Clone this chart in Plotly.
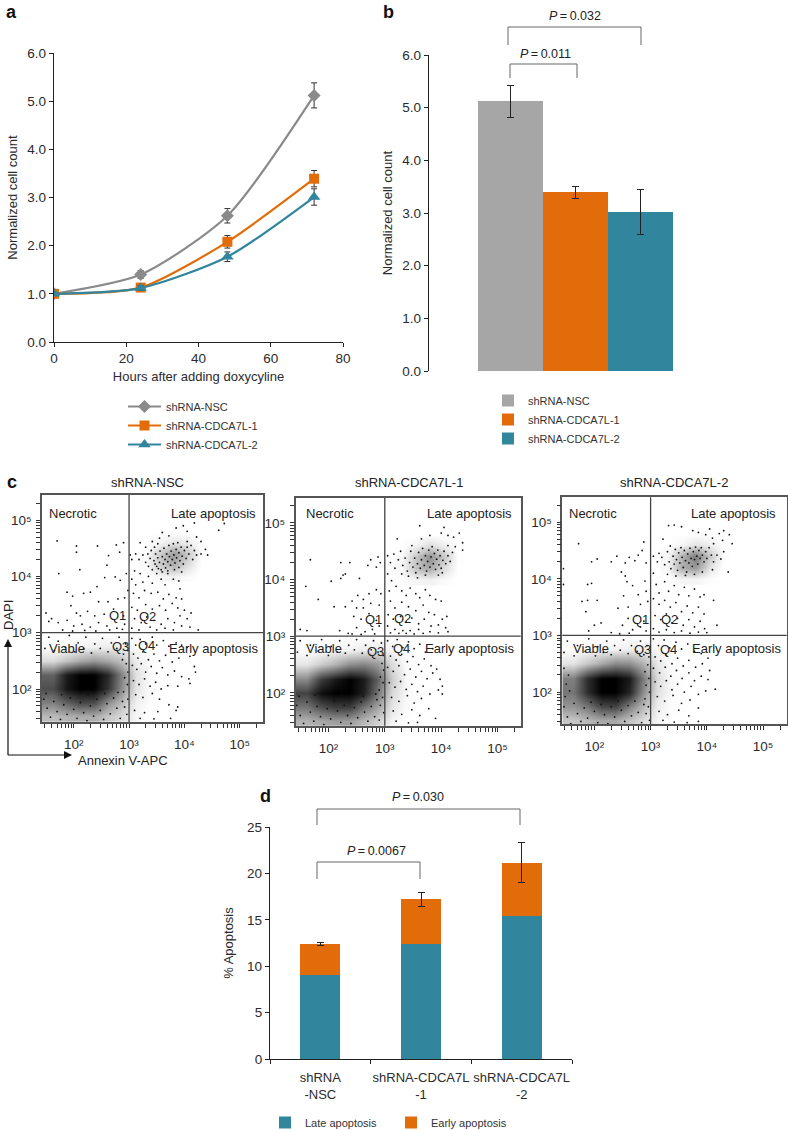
import numpy as np
import plotly.graph_objects as go

W, H = 788, 1130
FONT = "Liberation Sans"
GREY, ORANGE, TEAL, BARGREY = "#8a8a8a", "#e36c0a", "#31859c", "#a6a6a6"
INK = "#2b2b2b"

# ---------- panel a / b data ----------
hours = [0, 24, 48, 72]
names = ["shRNA-NSC", "shRNA-CDCA7L-1", "shRNA-CDCA7L-2"]
nsc_curve = [1.0, 1.40, 2.62, 5.12]
nsc_err = [0.03, 0.08, 0.15, 0.26]
l1_curve = [1.0, 1.13, 2.08, 3.39]
l1_err = [0.03, 0.05, 0.13, 0.17]
l2_curve = [1.0, 1.12, 1.77, 3.01]
l2_err = [0.02, 0.05, 0.10, 0.17]
endpoint_vals = [5.12, 3.39, 3.02]
endpoint_err = [0.30, 0.11, 0.43]

# ---------- panel d data ----------
d_cats = ["shRNA<br>-NSC", "shRNA-CDCA7L<br>-1", "shRNA-CDCA7L<br>-2"]
late_vals = [9.05, 12.35, 15.45]
early_vals = [3.35, 4.85, 5.70]
total_err = [0.15, 0.75, 2.15]

# ---------- panel c data: log10 fluorescence ----------
grid_x = [1.37, 1.62, 1.87, 2.12, 2.37, 2.62, 2.87, 3.12, 3.37, 3.62]
grid_y = [1.25, 1.5, 1.75, 2.0, 2.25, 2.5, 2.75, 3.0]
late_gx = [3.30, 3.55, 3.80, 4.05, 4.30]
late_gy = [4.0, 4.2, 4.4, 4.6, 4.8]

nsc_density = [
 [.26,.26,.30,.32,.32,.22,.14,.03,.0,.0],
 [.26,.26,.30,.32,.32,.22,.14,.03,.0,.0],
 [.50,.50,.62,.72,.70,.44,.26,.06,.01,.0],
 [.70,.70,.92,1.0,1.0,.80,.44,.10,.02,.0],
 [.62,.62,.90,1.0,1.0,.84,.48,.12,.02,.0],
 [.14,.14,.24,.34,.40,.34,.24,.07,.01,.0],
 [.01,.01,.02,.04,.06,.07,.06,.02,.0,.0],
 [.0,.0,.0,.0,.0,.0,.0,.0,.0,.0],
]
l1_density = [
 [.30,.30,.34,.38,.38,.28,.18,.05,.0,.0],
 [.30,.30,.34,.38,.38,.28,.18,.05,.0,.0],
 [.54,.54,.68,.76,.76,.54,.36,.10,.02,.0],
 [.74,.74,.94,1.0,1.0,.88,.54,.16,.03,.0],
 [.46,.46,.76,.90,1.0,.90,.62,.20,.03,.0],
 [.10,.10,.20,.30,.44,.48,.40,.14,.02,.0],
 [.01,.01,.02,.04,.05,.08,.10,.04,.01,.0],
 [.0,.0,.0,.0,.0,.0,.0,.0,.0,.0],
]
l2_density = [
 [.22,.22,.28,.34,.34,.24,.14,.04,.0,.0],
 [.22,.22,.28,.34,.34,.24,.14,.04,.0,.0],
 [.42,.42,.54,.72,.74,.50,.28,.07,.01,.0],
 [.54,.54,.82,1.0,1.0,.86,.44,.12,.02,.0],
 [.50,.50,.82,1.0,1.0,.90,.52,.14,.02,.0],
 [.11,.11,.22,.34,.46,.44,.30,.09,.01,.0],
 [.01,.01,.02,.04,.05,.07,.07,.03,.0,.0],
 [.0,.0,.0,.0,.0,.0,.0,.0,.0,.0],
]
nsc_late_density = [[.0,.03,.05,.02,.0],[.02,.20,.32,.14,.0],[.01,.20,.40,.24,.01],[.0,.04,.11,.08,.0],[.0,.0,.0,.0,.0]]
l1_late_density = [[.01,.04,.05,.02,.0],[.03,.24,.34,.14,.0],[.02,.22,.44,.22,.01],[.0,.05,.14,.07,.0],[.0,.0,.0,.0,.0]]
l2_late_density = [[.0,.04,.04,.01,.0],[.03,.32,.40,.11,.0],[.03,.30,.52,.22,.01],[.0,.04,.11,.07,.01],[.0,.0,.0,.0,.0]]

nsc_dots = [
(1.70,4.63),(2.05,4.54),(2.05,4.43),(2.43,4.54),(2.77,4.56),(2.90,4.60),(1.73,4.05),(2.11,4.12),(2.63,4.37),(2.60,4.20),(2.83,4.43),(2.75,3.99),(2.84,3.93),(2.95,4.05),(2.98,3.75),(2.56,3.98),(2.42,3.82),(2.30,3.72),(2.18,3.70),(1.98,3.65),(1.88,3.72),(2.45,3.55),(2.62,3.55),(2.80,3.60),(2.92,3.62),(1.95,3.48),(2.05,3.35),(2.12,3.30),(2.25,3.38),(2.38,3.30),(2.55,3.33),(2.72,3.42),(2.90,3.30),(1.60,3.25),(1.50,3.35),(1.55,3.20),(1.72,3.18),(1.88,3.22),(2.00,3.12),(2.15,3.15),(2.30,3.10),(2.45,3.18),(2.60,3.12),(2.78,3.08),(2.92,3.15),(1.80,3.05),(1.98,3.03),(2.20,3.04),(2.40,3.03),(2.65,3.05),(2.88,3.06),
(3.05,4.30),(3.10,4.10),(3.05,3.95),(3.12,3.85),(3.20,4.05),(3.25,3.90),(3.35,4.00),(3.42,3.88),(3.50,4.05),(3.58,3.95),(3.65,3.85),(3.70,4.05),(3.80,3.95),(3.90,3.92),(3.95,4.08),(3.08,3.70),(3.18,3.62),(3.28,3.75),(3.40,3.70),(3.52,3.72),(3.62,3.60),(3.72,3.68),(3.85,3.62),(3.92,3.78),(3.05,3.45),(3.15,3.40),(3.30,3.50),(3.42,3.42),(3.55,3.48),(3.66,3.40),(3.78,3.52),(3.88,3.44),(4.00,3.40),(3.95,3.60),(3.10,3.25),(3.22,3.18),(3.32,3.28),(3.45,3.22),(3.58,3.15),(3.70,3.25),(3.82,3.18),(3.92,3.30),(4.05,3.25),(4.12,3.35),(3.05,3.08),(3.18,3.05),(3.38,3.10),(3.50,3.05),(3.65,3.08),(3.80,3.05),(3.95,3.12),(4.10,3.10),(4.25,3.05),
(3.20,4.60),(3.30,4.52),(3.42,4.62),(3.55,4.68),(3.60,4.78),(3.72,4.72),(3.85,4.86),(3.98,4.90),(4.05,4.80),(4.18,4.95),(4.05,4.62),(4.22,4.70),(4.30,4.62),(4.38,4.48),(4.30,4.40),(4.42,4.38),(4.72,4.94),(4.62,4.82),(3.02,4.38),(3.12,4.40),(3.18,4.30),(3.25,4.38),(3.30,4.25),(3.35,4.18),(3.38,4.32),(3.42,4.12),(3.45,4.28),(3.48,4.40),(3.50,4.18),(3.52,4.33),(3.55,4.25),(3.56,4.45),(3.58,4.12),(3.60,4.35),(3.62,4.22),(3.63,4.50),(3.65,4.30),(3.66,4.15),(3.68,4.40),(3.70,4.26),(3.72,4.55),(3.73,4.35),(3.75,4.20),(3.76,4.45),(3.78,4.30),(3.80,4.58),(3.81,4.38),(3.83,4.24),(3.85,4.48),(3.86,4.33),(3.88,4.60),(3.90,4.42),(3.92,4.28),(3.94,4.52),(3.96,4.36),(3.98,4.22),(4.00,4.46),(4.03,4.32),(4.05,4.52),(4.08,4.40),(4.12,4.55),(4.15,4.30),(4.18,4.46),(4.22,4.38),(3.40,4.46),(3.34,4.40),(3.46,4.52),(3.52,4.58),(3.47,4.22),(3.53,4.14),(3.60,4.08),(3.70,4.10),(3.82,4.12),(3.90,4.16),
(3.05,2.90),(3.12,2.78),(3.20,2.88),(3.30,2.80),(3.42,2.92),(3.50,2.78),(3.62,2.86),(3.72,2.76),(3.85,2.82),(3.95,2.78),(4.05,2.74),(3.08,2.62),(3.16,2.55),(3.25,2.66),(3.35,2.52),(3.45,2.62),(3.55,2.50),(3.66,2.60),(3.78,2.48),(3.90,2.55),(4.10,2.58),(4.18,2.40),(3.06,2.42),(3.14,2.35),(3.22,2.45),(3.30,2.30),(3.40,2.40),(3.50,2.28),(3.60,2.38),(3.70,2.25),(3.82,2.32),(3.95,2.22),(4.08,2.18),(4.20,2.30),(3.08,2.15),(3.18,2.08),(3.28,2.18),(3.38,2.05),(3.48,2.12),(3.58,2.00),(3.70,2.06),(3.88,2.05),(4.10,2.10),(3.12,1.90),(3.25,1.85),(3.42,1.92),(3.55,1.82),(3.72,1.72),(3.88,1.68),(3.10,1.62),(3.28,1.58),(3.52,1.60),(3.85,1.62),(3.20,1.48),(3.45,1.47),(3.75,1.48),
(1.55,2.92),(1.72,2.85),(1.92,2.95),(2.08,2.82),(2.22,2.92),(2.38,2.80),(2.52,2.90),(2.68,2.82),(2.82,2.92),(2.94,2.80),(1.48,2.72),(1.65,2.68),(1.85,2.74),(2.02,2.66),(2.18,2.72),(2.32,2.64),(2.48,2.72),(2.62,2.66),(2.78,2.72),(2.90,2.62),(2.98,2.68),(2.95,2.45),(2.88,2.52),(2.98,2.30),(2.92,2.20),(2.97,2.08),(2.90,1.95),(2.98,1.82),(2.92,1.68),(2.96,1.55),
(1.46,1.82),(1.52,1.66),(1.58,1.50),(1.64,1.78),(1.70,1.60),(1.76,1.46),(1.82,1.72),(1.88,1.55),(1.94,1.84),(2.00,1.64),(2.06,1.48),(2.12,1.76),(2.18,1.58),(2.24,1.44),(2.30,1.70),(2.36,1.52),(2.42,1.82),(2.48,1.62),(2.54,1.46),(2.60,1.74),(2.66,1.56),(2.72,1.84),(2.78,1.66),(2.84,1.48),(2.88,1.78),(1.50,1.92),(1.78,1.90),(2.26,1.90),(2.56,1.92),(2.80,1.94),
]
l1_dots = [
(2.30,4.10),(1.68,4.35),(2.22,4.30),(2.38,4.30),(2.75,4.35),(2.88,4.40),(2.92,4.30),(2.85,4.22),(2.70,4.25),(2.55,4.02),(2.26,4.08),(2.22,4.02),(2.05,3.97),(1.60,3.88),(1.82,3.65),(2.10,3.52),(2.30,3.52),(2.42,3.62),(2.52,3.72),(2.62,3.65),(2.72,3.75),(2.85,3.82),(2.93,3.75),(2.50,3.50),(2.62,3.50),(2.75,3.58),(2.90,3.55),(2.45,3.35),(2.58,3.30),(2.72,3.40),(2.85,3.28),(1.50,3.12),(1.62,3.10),(2.20,3.10),(2.35,3.05),(2.50,3.15),(2.65,3.08),(2.78,3.12),(2.90,3.18),(2.42,3.04),(2.58,3.03),(2.82,3.04),
(3.05,4.10),(3.12,3.98),(3.08,3.80),(3.20,3.88),(3.30,3.80),(3.38,3.72),(3.45,3.85),(3.55,3.75),(3.62,3.68),(3.72,3.82),(3.80,3.72),(3.90,3.65),(4.00,3.62),(3.10,3.62),(3.18,3.50),(3.30,3.60),(3.42,3.52),(3.55,3.45),(3.68,3.55),(3.78,3.42),(3.88,3.38),(4.02,3.30),(4.10,3.35),(3.06,3.38),(3.15,3.30),(3.28,3.35),(3.38,3.25),(3.48,3.32),(3.60,3.22),(3.70,3.30),(3.82,3.18),(3.95,3.20),(4.08,3.15),(3.05,3.18),(3.18,3.12),(3.25,3.05),(3.32,3.10),(3.38,3.05),(3.45,3.10),(3.52,3.04),(3.60,3.12),(3.68,3.05),(3.80,3.08),(3.95,3.06),(4.12,3.08),(3.10,3.06),
(3.22,4.72),(3.62,4.95),(3.65,4.72),(3.48,4.60),(3.80,4.78),(4.00,4.82),(4.05,4.92),(4.12,4.78),(4.22,4.75),(4.32,4.82),(4.38,4.65),(4.25,4.58),(4.38,4.52),(4.12,4.60),(3.05,4.42),(3.10,4.30),(3.16,4.45),(3.18,4.20),(3.24,4.35),(3.28,4.50),(3.32,4.25),(3.36,4.38),(3.40,4.15),(3.44,4.30),(3.46,4.50),(3.50,4.22),(3.53,4.38),(3.55,4.12),(3.58,4.28),(3.60,4.48),(3.63,4.20),(3.65,4.35),(3.67,4.55),(3.70,4.25),(3.72,4.42),(3.74,4.15),(3.76,4.32),(3.78,4.52),(3.80,4.22),(3.82,4.40),(3.84,4.58),(3.86,4.28),(3.88,4.46),(3.90,4.18),(3.92,4.36),(3.94,4.52),(3.96,4.26),(3.98,4.42),(4.00,4.20),(4.03,4.34),(4.05,4.50),(4.08,4.28),(4.12,4.42),(4.16,4.32),(4.20,4.48),(3.30,4.10),(3.42,4.06),(3.58,4.03),(3.72,4.08),(3.95,4.08),(4.02,4.12),
(3.05,2.92),(3.14,2.82),(3.22,2.94),(3.32,2.80),(3.42,2.90),(3.52,2.78),(3.62,2.86),(3.72,2.72),(3.85,2.78),(3.10,2.65),(3.20,2.58),(3.30,2.68),(3.40,2.55),(3.50,2.64),(3.60,2.50),(3.70,2.60),(3.82,2.48),(3.92,2.42),(3.05,2.45),(3.15,2.38),(3.25,2.48),(3.35,2.32),(3.45,2.42),(3.55,2.28),(3.65,2.38),(3.75,2.25),(3.85,2.35),(3.98,2.24),(4.02,2.12),(3.08,2.18),(3.18,2.10),(3.28,2.20),(3.38,2.06),(3.48,2.15),(3.58,2.02),(3.68,2.12),(3.80,1.98),(3.95,2.05),(4.02,1.98),(3.12,1.92),(3.25,1.85),(3.40,1.95),(3.52,1.82),(3.65,1.90),(3.78,1.72),(3.15,1.68),(3.30,1.62),(3.48,1.70),(3.62,1.60),(3.20,1.50),(3.42,1.47),(3.58,1.48),(3.90,1.55),
(1.50,2.92),(1.68,2.84),(1.88,2.94),(2.05,2.82),(2.20,2.92),(2.36,2.84),(2.50,2.94),(2.66,2.84),(2.80,2.92),(2.94,2.88),(1.45,2.72),(1.62,2.66),(1.82,2.74),(2.00,2.66),(2.16,2.72),(2.30,2.70),(2.46,2.76),(2.60,2.70),(2.76,2.76),(2.88,2.72),(2.97,2.66),(2.95,2.52),(2.98,2.40),(2.92,2.28),(2.97,2.18),(2.90,2.05),(2.96,1.92),(2.92,1.78),(2.98,1.65),(2.90,1.52),
(1.44,1.78),(1.50,1.60),(1.56,1.46),(1.62,1.84),(1.68,1.66),(1.74,1.50),(1.80,1.76),(1.86,1.58),(1.92,1.44),(1.98,1.72),(2.04,1.54),(2.10,1.86),(2.16,1.68),(2.22,1.48),(2.28,1.78),(2.34,1.60),(2.40,1.46),(2.46,1.74),(2.52,1.56),(2.58,1.84),(2.64,1.66),(2.70,1.50),(2.76,1.76),(2.82,1.58),(2.86,1.88),(1.48,1.94),(1.76,1.96),(2.24,1.96),(2.62,1.94),(2.84,1.98),
]
l2_dots = [
(1.72,4.62),(2.88,4.65),(2.85,4.50),(2.78,4.42),(2.62,4.38),(2.40,4.40),(2.05,4.35),(1.95,4.30),(2.30,4.30),(2.55,4.28),(2.72,4.32),(2.92,4.28),(1.45,4.18),(2.48,4.12),(2.55,4.05),(2.58,3.95),(2.68,3.88),(2.90,3.96),(1.95,3.92),(1.88,3.90),(2.92,3.78),(2.78,3.72),(2.52,3.70),(1.45,3.90),(1.88,3.62),(1.78,3.60),(2.05,3.62),(1.85,3.42),(2.42,3.48),(2.60,3.50),(2.82,3.55),(2.95,3.60),(2.60,3.30),(2.75,3.35),(2.88,3.25),(2.12,3.22),(2.00,3.18),(2.50,3.18),(2.68,3.10),(2.82,3.15),(2.92,3.08),(1.90,3.08),(2.30,3.05),(2.45,3.03),(2.62,3.04),
(3.05,4.10),(3.10,3.90),(3.15,3.75),(3.25,3.95),(3.32,3.78),(3.42,3.88),(3.50,3.72),(3.60,3.85),(3.68,3.70),(3.78,3.82),(3.88,3.68),(3.95,3.72),(3.05,3.65),(3.15,3.55),(3.25,3.62),(3.35,3.50),(3.45,3.58),(3.55,3.42),(3.65,3.52),(3.75,3.40),(3.85,3.50),(3.95,3.38),(4.12,3.62),(3.08,3.35),(3.18,3.28),(3.28,3.38),(3.38,3.22),(3.48,3.30),(3.58,3.18),(3.68,3.28),(3.78,3.15),(3.88,3.25),(3.96,3.12),(4.18,3.18),(3.05,3.12),(3.15,3.06),(3.28,3.10),(3.42,3.05),(3.55,3.08),(3.70,3.04),(3.85,3.06),(4.00,3.05),
(3.32,4.94),(3.42,4.95),(3.55,4.92),(3.75,4.85),(3.85,4.82),(3.98,4.78),(4.05,4.88),(4.10,4.72),(4.22,4.80),(4.30,4.85),(4.40,4.78),(4.45,4.62),(4.28,4.68),(4.12,4.62),(3.22,4.70),(3.35,4.58),(3.05,4.40),(3.12,4.30),(3.15,4.45),(3.20,4.38),(3.25,4.25),(3.30,4.48),(3.33,4.30),(3.36,4.18),(3.40,4.40),(3.42,4.26),(3.44,4.52),(3.46,4.34),(3.48,4.15),(3.50,4.46),(3.52,4.28),(3.54,4.55),(3.56,4.38),(3.58,4.20),(3.60,4.50),(3.62,4.32),(3.64,4.12),(3.66,4.44),(3.68,4.28),(3.70,4.54),(3.72,4.36),(3.74,4.22),(3.76,4.48),(3.78,4.34),(3.80,4.56),(3.82,4.40),(3.84,4.26),(3.86,4.50),(3.88,4.36),(3.90,4.55),(3.92,4.42),(3.95,4.30),(3.98,4.48),(4.00,4.36),(4.04,4.55),(4.08,4.42),(4.12,4.30),(4.18,4.42),(4.25,4.35),(4.30,4.48),(3.30,4.08),(3.45,4.05),(3.62,4.06),(3.78,4.08),(3.92,4.12),(4.10,4.16),(4.38,4.12),
(3.05,2.94),(3.14,2.82),(3.24,2.92),(3.34,2.78),(3.45,2.88),(3.55,2.76),(3.66,2.85),(3.78,2.72),(3.90,2.68),(4.02,2.60),(3.08,2.62),(3.18,2.55),(3.28,2.65),(3.38,2.50),(3.48,2.60),(3.58,2.46),(3.68,2.56),(3.80,2.44),(3.92,2.50),(4.05,2.38),(3.05,2.42),(3.16,2.34),(3.26,2.44),(3.36,2.28),(3.46,2.38),(3.56,2.24),(3.68,2.34),(3.78,2.20),(3.90,2.28),(4.02,2.22),(4.15,2.05),(3.08,2.18),(3.18,2.10),(3.28,2.20),(3.38,2.04),(3.48,2.14),(3.60,2.00),(3.72,2.10),(3.85,1.96),(3.98,2.02),(3.12,1.92),(3.25,1.84),(3.40,1.94),(3.55,1.80),(3.70,1.86),(3.85,1.72),(3.15,1.66),(3.30,1.60),(3.50,1.68),(3.68,1.58),(3.22,1.50),(3.42,1.47),(3.65,1.46),(3.85,1.48),
(1.52,2.90),(1.70,2.82),(1.90,2.94),(2.06,2.80),(2.22,2.90),(2.36,2.82),(2.52,2.92),(2.66,2.82),(2.82,2.90),(2.94,2.82),(1.46,2.70),(1.64,2.64),(1.84,2.72),(2.02,2.64),(2.16,2.70),(2.30,2.66),(2.46,2.74),(2.60,2.68),(2.76,2.72),(2.88,2.66),(2.97,2.62),(2.95,2.48),(2.90,2.36),(2.97,2.24),(2.92,2.12),(2.98,2.00),(2.90,1.88),(2.96,1.74),(2.92,1.62),(2.98,1.50),
(1.46,1.74),(1.52,1.56),(1.58,1.44),(1.64,1.80),(1.70,1.62),(1.76,1.48),(1.82,1.72),(1.88,1.54),(1.94,1.82),(2.00,1.66),(2.06,1.46),(2.12,1.78),(2.18,1.60),(2.24,1.44),(2.30,1.74),(2.36,1.56),(2.42,1.84),(2.48,1.68),(2.54,1.48),(2.60,1.76),(2.66,1.58),(2.72,1.84),(2.78,1.64),(2.84,1.46),(2.88,1.78),(1.48,1.92),(1.56,2.02),(1.50,2.14),(1.54,2.30),(1.46,2.42),
]

decade_labels = {100: "10\u00b2", 1000: "10\u00b3", 10000: "10\u2074", 100000: "10\u2075"}
flow_ticks = [k * 10 ** n for n in range(1, 6) for k in range(1, 10)]
flow_ticktext = [decade_labels.get(v, "") for v in flow_ticks]


def dx(a, b):
    return [a / W, b / W]


def dy(top, bottom):
    return [1 - bottom / H, 1 - top / H]


def px(x):
    return x / W


def py(y):
    return 1 - y / H


fig = go.Figure()
tick_font = dict(family=FONT, size=13.5, color=INK)
title_font = dict(family=FONT, size=13, color=INK)
leg_font = dict(family=FONT, size=11, color="#333333")

# ---------- a ----------
for nm, ys, es, col, sym, ms in [
    (names[0], nsc_curve, nsc_err, GREY, "diamond", 10),
    (names[1], l1_curve, l1_err, ORANGE, "square", 10),
    (names[2], l2_curve, l2_err, TEAL, "triangle-up", 11),
]:
    fig.add_trace(go.Scatter(
        x=hours, y=ys, name=nm, mode="lines+markers",
        line=dict(color=col, width=2.2, shape="spline", smoothing=0.7),
        marker=dict(symbol=sym, size=ms, color=col),
        error_y=dict(type="data", array=es, color="#333333", thickness=1, width=3),
        xaxis="x", yaxis="y", legend="legend",
    ))

# ---------- b ----------
for nm, v, e, col in zip(names, endpoint_vals, endpoint_err, [BARGREY, ORANGE, TEAL]):
    fig.add_trace(go.Bar(
        x=[nm], y=[v], name=nm, width=1.0, marker=dict(color=col, line=dict(width=0)),
        error_y=dict(type="data", array=[e], color="#222222", thickness=1, width=3.5),
        xaxis="x2", yaxis="y2", legend="legend2",
    ))

# ---------- c ----------
panels = [
    ("x3", "y3", nsc_density, nsc_late_density, nsc_dots),
    ("x4", "y4", l1_density, l1_late_density, l1_dots),
    ("x5", "y5", l2_density, l2_late_density, l2_dots),
]
core_scale = [[0, "rgba(0,0,0,0)"], [1, "rgba(0,0,0,1)"]]
for xa, ya, dens, late_d, dots in panels:
    for gx, gy, z in [(grid_x, grid_y, dens), (late_gx, late_gy, late_d)]:
        fig.add_trace(go.Heatmap(
            x=[10.0 ** v for v in gx], y=[10.0 ** v for v in gy], z=z,
            zmin=0, zmax=1, zsmooth="best", colorscale=core_scale, showscale=False,
            hoverinfo="skip", xaxis=xa, yaxis=ya,
        ))
    arr = np.array(dots)
    fig.add_trace(go.Scatter(
        x=10.0 ** arr[:, 0], y=10.0 ** arr[:, 1], mode="markers",
        marker=dict(size=1.8, color="#111111", line=dict(width=0)),
        showlegend=False, xaxis=xa, yaxis=ya,
    ))
    fig.add_trace(go.Scatter(x=[1000, 1000], y=[10, 10 ** 6], mode="lines",
                             line=dict(color="#444444", width=1.3), showlegend=False,
                             xaxis=xa, yaxis=ya))
    fig.add_trace(go.Scatter(x=[10, 10 ** 6], y=[1000, 1000], mode="lines",
                             line=dict(color="#444444", width=1.3), showlegend=False,
                             xaxis=xa, yaxis=ya))

# ---------- d ----------
fig.add_trace(go.Bar(x=d_cats, y=late_vals, name="Late apoptosis", width=0.4,
                     marker=dict(color=TEAL, line=dict(width=0)),
                     xaxis="x6", yaxis="y6", legend="legend3"))
fig.add_trace(go.Bar(x=d_cats, y=early_vals, name="Early apoptosis", width=0.4,
                     marker=dict(color=ORANGE, line=dict(width=0)),
                     error_y=dict(type="data", array=total_err, color="#222222", thickness=1, width=3.5),
                     xaxis="x6", yaxis="y6", legend="legend3"))

axis_common = dict(showgrid=False, zeroline=False, showline=True, linecolor="#222222", linewidth=1.3,
                   ticks="outside", ticklen=4, tickcolor="#222222", tickwidth=1)


def flow_axis(domain, rng, anchor, standoff=0):
    return dict(
        domain=domain, range=rng, type="log", anchor=anchor, showgrid=False, zeroline=False,
        showline=True, mirror=True, linecolor="#555555", linewidth=1.6,
        ticks="outside", ticklen=4, tickcolor="#333333", tickwidth=1,
        tickfont=dict(family=FONT, size=13.5, color=INK), ticklabelstandoff=standoff,
        tickmode="array", tickvals=flow_ticks, ticktext=flow_ticktext,
    )


fig.update_layout(
    width=W, height=H, autosize=False, margin=dict(l=0, r=0, t=0, b=0, autoexpand=False),
    plot_bgcolor="white", paper_bgcolor="white", barmode="stack", bargap=0,
    font=dict(family=FONT, size=12, color=INK), hovermode=False,
    xaxis=dict(domain=dx(54, 343), range=[0, 80], tickvals=[0, 20, 40, 60, 80], anchor="y", tickfont=tick_font,
               title=dict(text="Hours after adding doxycyline", font=title_font, standoff=6), **axis_common),
    yaxis=dict(domain=dy(53, 342), range=[0, 6], tickvals=[0, 1, 2, 3, 4, 5, 6], tickformat=".1f", anchor="x",
               tickfont=tick_font,
               title=dict(text="Normalized cell count", font=title_font, standoff=6), **axis_common),
    xaxis2=dict(domain=dx(429, 680), range=[-1.254, 2.608], type="category", categoryorder="array",
                categoryarray=names, visible=False, anchor="y2"),
    yaxis2=dict(domain=dy(55, 371), range=[0, 6], tickvals=[0, 1, 2, 3, 4, 5, 6], tickformat=".1f", anchor="x2",
                tickfont=tick_font,
                title=dict(text="Normalized cell count", font=title_font, standoff=6), **axis_common),
    xaxis3=flow_axis(dx(42, 263), [1.427, 5.42], "y3", 5),
    yaxis3=flow_axis(dy(495, 722), [1.414, 5.446], "x3", 2),
    xaxis4=flow_axis(dx(295.7, 520.7), [1.42, 5.41], "y4", 5),
    yaxis4=flow_axis(dy(498, 725.7), [1.42, 5.44], "x4", 2),
    xaxis5=flow_axis(dx(562.3, 786.7), [1.43, 5.42], "y5", 5),
    yaxis5=flow_axis(dy(497.3, 724.3), [1.43, 5.44], "x5", 2),
    xaxis6=dict(domain=dx(270, 572), range=[-0.5, 2.5], type="category", categoryorder="array",
                categoryarray=d_cats, tickson="boundaries", tickangle=0, ticklabelstandoff=6, anchor="y6",
                tickfont=dict(family=FONT, size=13, color=INK), **axis_common),
    yaxis6=dict(domain=dy(827, 1059), range=[0, 25], tickvals=[0, 5, 10, 15, 20, 25], anchor="x6",
                tickfont=tick_font,
                title=dict(text="% Apoptosis", font=title_font, standoff=10), **axis_common),
    legend=dict(x=px(123), y=py(392), xanchor="left", yanchor="top", font=leg_font, itemwidth=33,
                bgcolor="rgba(0,0,0,0)", traceorder="normal", itemclick=False),
    legend2=dict(x=px(488), y=py(386), xanchor="left", yanchor="top", font=leg_font,
                 bgcolor="rgba(0,0,0,0)", traceorder="normal", itemclick=False),
    legend3=dict(x=px(265), y=py(1108), xanchor="left", yanchor="top", font=leg_font, orientation="h",
                 entrywidth=81, bgcolor="rgba(0,0,0,0)", traceorder="normal", itemclick=False),
)

# ---------- text ----------
labels = [
    ("a", 4, 12, 18, True), ("b", 381, 12, 18, True), ("c", 5, 482, 18, True), ("d", 258, 796, 18, True),
]
for t, x, y, s, b in labels:
    fig.add_annotation(text=f"<b>{t}</b>", x=px(x), y=py(y), xref="paper", yref="paper", showarrow=False,
                       xanchor="left", yanchor="middle", font=dict(family=FONT, size=s, color="#111111"))

c_text = [
    ("shRNA-NSC", 147, 483), ("shRNA-CDCA7L-1", 409, 483), ("shRNA-CDCA7L-2", 674, 483),
    ("Necrotic", 73, 513), ("Late apoptosis", 214, 513), ("Viable", 67, 648), ("Early apoptosis", 214, 648),
    ("Q1", 117, 615), ("Q2", 147, 616), ("Q3", 120, 646), ("Q4", 146, 645),
    ("Necrotic", 330, 513), ("Late apoptosis", 470, 513), ("Viable", 324, 648), ("Early apoptosis", 470, 648),
    ("Q1", 373, 619), ("Q2", 402, 618), ("Q3", 375, 651), ("Q4", 401, 648),
    ("Necrotic", 593, 513), ("Late apoptosis", 733, 513), ("Viable", 591, 648), ("Early apoptosis", 736, 648),
    ("Q1", 640, 619), ("Q2", 669, 619), ("Q3", 642, 649), ("Q4", 668, 649),
    ("Annexin V-APC", 123, 760),
]
for t, x, y in c_text:
    fig.add_annotation(text=t, x=px(x), y=py(y), xref="paper", yref="paper", showarrow=False,
                       xanchor="center", yanchor="middle", font=dict(family=FONT, size=13, color="#222222"))
fig.add_annotation(text="DAPI", x=px(8), y=py(615), xref="paper", yref="paper", showarrow=False, textangle=-90,
                   xanchor="center", yanchor="middle", font=dict(family=FONT, size=13, color="#222222"))

# arrows of panel c
line_col = "#111111"
fig.add_shape(type="line", xref="paper", yref="paper", x0=px(8), x1=px(8), y0=py(755), y1=py(646),
              line=dict(color=line_col, width=1.2))
fig.add_shape(type="line", xref="paper", yref="paper", x0=px(8), x1=px(66), y0=py(755), y1=py(755),
              line=dict(color=line_col, width=1.2))
fig.add_shape(type="path", xref="paper", yref="paper", fillcolor=line_col, line=dict(width=0),
              path=f"M {px(8)} {py(639)} L {px(4)} {py(647)} L {px(12)} {py(647)} Z")
fig.add_shape(type="path", xref="paper", yref="paper", fillcolor=line_col, line=dict(width=0),
              path=f"M {px(72)} {py(755)} L {px(64)} {py(751)} L {px(64)} {py(759)} Z")

# significance brackets
brackets = [
    (508, 641, 27, 45, "0.032", 575, 16),
    (510, 577, 64, 78, "0.011", 545, 54),
    (317, 520, 809, 825, "0.030", 418, 797),
    (317, 420, 862, 879, "0.0067", 376, 851),
]
for x0, x1, top, bot, p, tx, ty in brackets:
    fig.add_shape(type="path", xref="paper", yref="paper", line=dict(color="#666666", width=1),
                  path=f"M {px(x0)} {py(bot)} L {px(x0)} {py(top)} L {px(x1)} {py(top)} L {px(x1)} {py(bot)}")
    fig.add_annotation(text=f"<i>P</i>\u2009=\u2009{p}", x=px(tx), y=py(ty), xref="paper", yref="paper",
                       showarrow=False, xanchor="center", yanchor="middle",
                       font=dict(family=FONT, size=12.5, color="#222222"))

fig.write_html("out.html", config=dict(displayModeBar=False),
               post_script="document.body.style.margin='0';")
